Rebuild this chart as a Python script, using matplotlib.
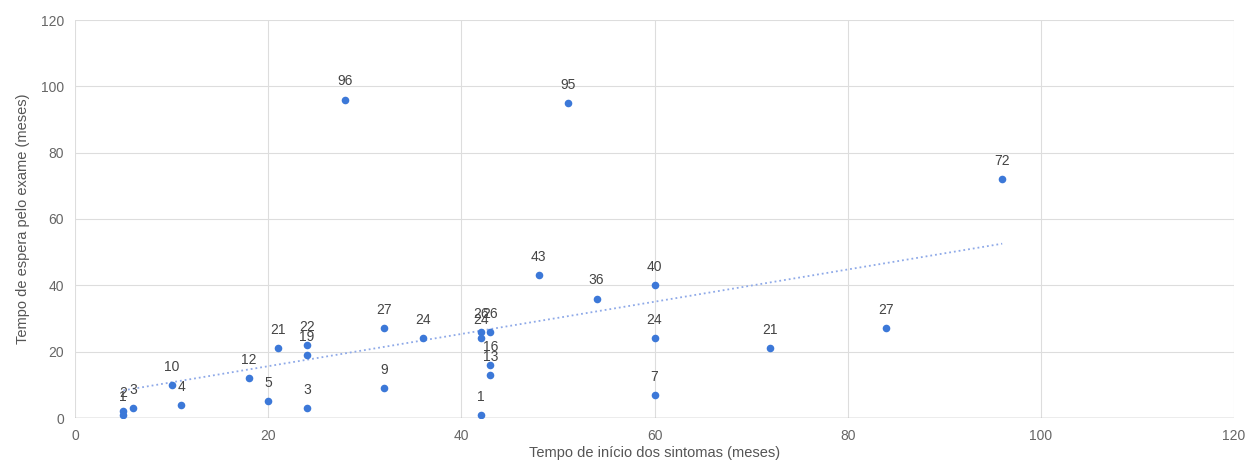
import numpy as np
import matplotlib.pyplot as plt

plt.rcParams['font.family'] = ['Liberation Sans', 'DejaVu Sans']

# tempo de inicio dos sintomas (meses) / tempo de espera (meses)
x = [5, 5, 6, 10, 11, 18, 20, 21, 24, 24, 24, 28, 32, 32, 36, 42, 42, 43,
     42, 43, 43, 48, 51, 54, 60, 60, 60, 72, 84, 96]
y = [1, 2, 3, 10, 4, 12, 5, 21, 22, 19, 3, 96, 27, 9, 24, 26, 24, 26,
     1, 16, 13, 43, 95, 36, 40, 24, 7, 21, 27, 72]

fig = plt.figure(figsize=(12.45, 4.71), dpi=100)
ax = fig.add_axes([75/1245, 53/471, (1234-75)/1245, (418-20)/471])

ax.scatter(x, y, s=30, color='#3c78d8', zorder=3, linewidths=0)
for xi, yi in zip(x, y):
    ax.annotate(str(yi), (xi, yi), textcoords='offset points', xytext=(0, 8),
                ha='center', va='bottom', fontsize=10, color='#444444')

# linha de tendencia
m, b = np.polyfit(x, y, 1)
xt = np.array([min(x), max(x)])
ax.plot(xt, m * xt + b, ':', color='#8ea9e8', lw=1.3, zorder=2)

ax.set_xlim(0, 120)
ax.set_ylim(0, 120)
ax.set_xticks(range(0, 121, 20))
ax.set_yticks(range(0, 121, 20))
ax.grid(color='#dddddd', lw=0.8)
ax.set_axisbelow(True)
for s in ax.spines.values():
    s.set_visible(False)
ax.axhline(0, color='#aaaaaa', lw=1)
ax.tick_params(length=0, labelsize=10, labelcolor='#666666', pad=8)
ax.set_xlabel('Tempo de início dos sintomas (meses)', fontsize=10.5, color='#555555', labelpad=2)
ax.set_ylabel('Tempo de espera pelo exame (meses)', fontsize=10.5, color='#555555', labelpad=8)

plt.savefig('out.png', dpi=100)
